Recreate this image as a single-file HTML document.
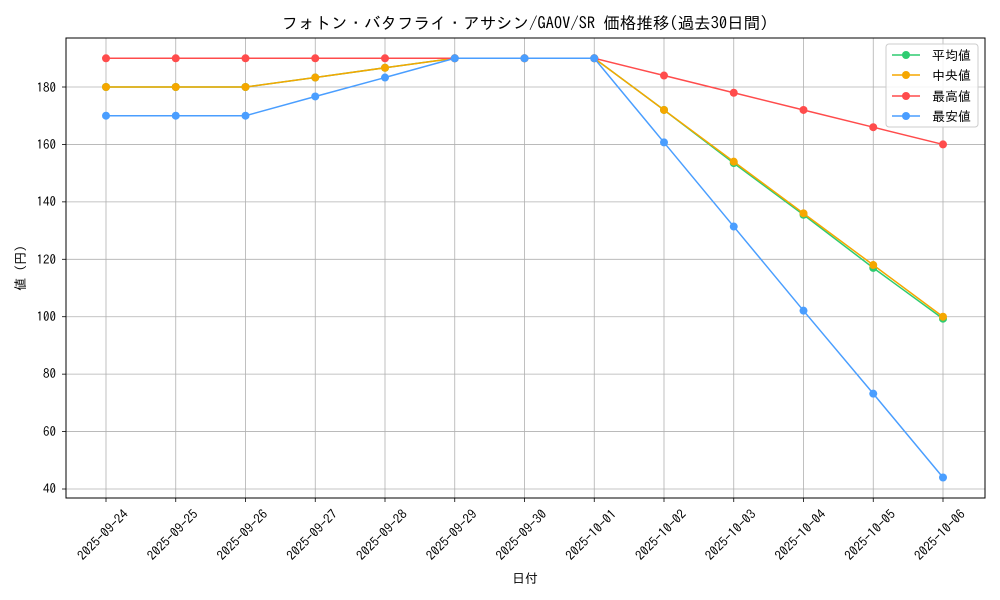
<!DOCTYPE html>
<html><head><meta charset="utf-8"><style>
html,body{margin:0;padding:0;background:#fff;}
svg{display:block;font-family:"IPAGothic","Liberation Sans","Noto Sans CJK JP",sans-serif;}
</style></head><body>
<svg id="s" width="1000" height="600" viewBox="0 0 1000 600" xmlns="http://www.w3.org/2000/svg">
<rect width="1000" height="600" fill="#fff"/>
<g id="grid" stroke="#b0b0b0" stroke-width="0.8"></g>
<g id="series"></g>
<rect x="66" y="38" width="919" height="460" fill="none" stroke="#000" stroke-width="1"/>
<g id="ticks" stroke="#000" stroke-width="0.8"></g>
<text x="525" y="29" font-size="16.5" text-anchor="middle">フォトン・バタフライ・アサシン/GAOV/SR 価格推移(過去30日間)</text>
<g font-size="13" text-anchor="end">
<text x="56" y="92">180</text><text x="56" y="149">160</text><text x="56" y="206">140</text><text x="56" y="264">120</text><text x="56" y="321">100</text><text x="56" y="378">80</text><text x="56" y="436">60</text><text x="56" y="493">40</text>
</g>
<g font-size="13" text-anchor="middle">
<text transform="translate(106,538) rotate(-45)">2025-09-24</text>
<text transform="translate(175.75,538) rotate(-45)">2025-09-25</text>
<text transform="translate(245.5,538) rotate(-45)">2025-09-26</text>
<text transform="translate(315.25,538) rotate(-45)">2025-09-27</text>
<text transform="translate(385,538) rotate(-45)">2025-09-28</text>
<text transform="translate(454.75,538) rotate(-45)">2025-09-29</text>
<text transform="translate(524.5,538) rotate(-45)">2025-09-30</text>
<text transform="translate(594.25,538) rotate(-45)">2025-10-01</text>
<text transform="translate(664,538) rotate(-45)">2025-10-02</text>
<text transform="translate(733.75,538) rotate(-45)">2025-10-03</text>
<text transform="translate(803.5,538) rotate(-45)">2025-10-04</text>
<text transform="translate(873.25,538) rotate(-45)">2025-10-05</text>
<text transform="translate(943,538) rotate(-45)">2025-10-06</text>
</g>
<text x="525" y="583" font-size="13" text-anchor="middle">日付</text>
<text transform="translate(25,268) rotate(-90)" font-size="13" text-anchor="middle">値 (円)</text>
<g>
<rect x="886" y="44" width="92" height="83" rx="3" fill="#fff" fill-opacity="0.85" stroke="#ccc"/>
<line x1="892" y1="55" x2="920" y2="55" stroke="#2ecc71" stroke-width="1.5"/><circle cx="906" cy="55" r="4" fill="#2ecc71"/>
<line x1="892" y1="75" x2="920" y2="75" stroke="#f5a700" stroke-width="1.5"/><circle cx="906" cy="75" r="4" fill="#f5a700"/>
<line x1="892" y1="96" x2="920" y2="96" stroke="#ff4c4c" stroke-width="1.5"/><circle cx="906" cy="96" r="4" fill="#ff4c4c"/>
<line x1="892" y1="116" x2="920" y2="116" stroke="#4a9eff" stroke-width="1.5"/><circle cx="906" cy="116" r="4" fill="#4a9eff"/>
<g font-size="13"><text x="932" y="60">平均値</text><text x="932" y="80"> 中央値</text><text x="932" y="101">最高値</text><text x="932" y="121">最安値</text></g>
</g>
</svg>
<script>
const X=i=>106+69.75*i, Y=v=>489-(v-40)*2.8714;
const g=document.getElementById('grid'),t=document.getElementById('ticks'),s=document.getElementById('series');
const NS='http://www.w3.org/2000/svg';
function el(p,n,a){const e=document.createElementNS(NS,n);for(const k in a)e.setAttribute(k,a[k]);p.appendChild(e);return e;}
for(let i=0;i<13;i++){el(g,'line',{x1:X(i),x2:X(i),y1:38,y2:498});el(t,'line',{x1:X(i),x2:X(i),y1:498,y2:502});}
for(let v=40;v<=180;v+=20){el(g,'line',{x1:66,x2:985,y1:Y(v),y2:Y(v)});el(t,'line',{x1:62,x2:66,y1:Y(v),y2:Y(v)});}
const D=[
['#2ecc71',[180,180,180,183.3,186.7,190,190,190,172,153.5,135.5,117,99.3]],
['#f5a700',[180,180,180,183.3,186.7,190,190,190,172,154,136,118,100]],
['#ff4c4c',[190,190,190,190,190,190,190,190,184,178,172,166,160]],
['#4a9eff',[170,170,170,176.7,183.3,190,190,190,160.7,131.4,102.1,73.2,44]]];
for(const [c,d] of D){el(s,'polyline',{points:d.map((v,i)=>X(i)+','+Y(v)).join(' '),fill:'none',stroke:c,'stroke-width':1.5});
d.forEach((v,i)=>el(s,'circle',{cx:X(i),cy:Y(v),r:4,fill:c}));}
</script>
</body></html>
